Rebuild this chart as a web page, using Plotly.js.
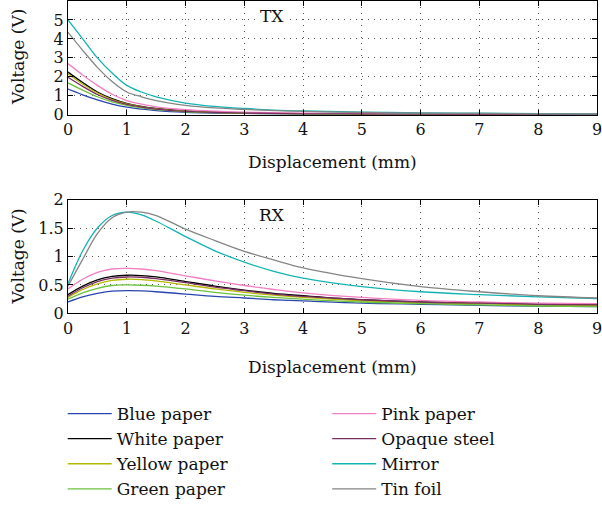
<!DOCTYPE html>
<html>
<head>
<meta charset="utf-8">
<script src="https://cdn.plot.ly/plotly-3.0.1.min.js"></script>
<style>html,body{margin:0;padding:0;background:#fff}#chart{width:602px;height:507px}</style>
</head>
<body>
<div id="chart"></div>
<script>
var displacement = [0, 0.25, 0.5, 0.75, 1, 1.25, 1.5, 2, 2.5, 3, 3.5, 4, 5, 6, 7, 8, 9];
var materials = ["Blue paper", "White paper", "Yellow paper", "Green paper", "Pink paper", "Opaque steel", "Mirror", "Tin foil"];
var colors = ["#2a45b0", "#000000", "#b5b800", "#6cc23c", "#f27fc3", "#7a2f62", "#14b3b3", "#858585"];
var legendColumn = ["legend", "legend", "legend", "legend", "legend2", "legend2", "legend2", "legend2"];

var txBlue   = [1.35, 1.05, 0.78, 0.56, 0.4, 0.3, 0.22, 0.13, 0.09, 0.07, 0.05, 0.04, 0.03, 0.02, 0.02, 0.02, 0.01];
var txWhite  = [2.25, 1.7, 1.2, 0.85, 0.6, 0.44, 0.33, 0.2, 0.14, 0.1, 0.08, 0.06, 0.04, 0.03, 0.02, 0.02, 0.02];
var txYellow = [2.15, 1.62, 1.15, 0.8, 0.57, 0.42, 0.31, 0.19, 0.13, 0.09, 0.07, 0.06, 0.04, 0.03, 0.02, 0.02, 0.02];
var txGreen  = [1.68, 1.3, 0.95, 0.68, 0.5, 0.37, 0.27, 0.16, 0.11, 0.08, 0.06, 0.05, 0.03, 0.03, 0.02, 0.02, 0.02];
var txPink   = [2.7, 2.1, 1.55, 1.08, 0.75, 0.56, 0.42, 0.27, 0.19, 0.14, 0.11, 0.09, 0.06, 0.05, 0.04, 0.03, 0.03];
var txSteel  = [1.98, 1.5, 1.07, 0.76, 0.55, 0.41, 0.3, 0.18, 0.12, 0.09, 0.07, 0.05, 0.04, 0.03, 0.02, 0.02, 0.02];
var txMirror = [5.0, 4.0, 3.0, 2.2, 1.55, 1.2, 0.95, 0.62, 0.44, 0.33, 0.25, 0.2, 0.14, 0.1, 0.08, 0.06, 0.05];
var txTin    = [4.35, 3.4, 2.5, 1.75, 1.2, 0.95, 0.75, 0.5, 0.36, 0.28, 0.22, 0.18, 0.12, 0.09, 0.07, 0.05, 0.04];

var rxBlue   = [0.2, 0.29, 0.35, 0.39, 0.4, 0.395, 0.38, 0.34, 0.3, 0.27, 0.24, 0.22, 0.18, 0.16, 0.14, 0.13, 0.12];
var rxWhite  = [0.33, 0.48, 0.59, 0.65, 0.67, 0.665, 0.64, 0.56, 0.48, 0.41, 0.35, 0.31, 0.24, 0.2, 0.18, 0.16, 0.15];
var rxYellow = [0.28, 0.42, 0.52, 0.58, 0.6, 0.595, 0.57, 0.5, 0.43, 0.37, 0.32, 0.28, 0.22, 0.19, 0.17, 0.15, 0.14];
var rxGreen  = [0.25, 0.36, 0.44, 0.49, 0.5, 0.495, 0.48, 0.43, 0.37, 0.32, 0.28, 0.25, 0.2, 0.17, 0.15, 0.13, 0.12];
var rxPink   = [0.43, 0.6, 0.72, 0.78, 0.79, 0.78, 0.75, 0.66, 0.57, 0.49, 0.42, 0.36, 0.28, 0.23, 0.2, 0.18, 0.17];
var rxSteel  = [0.3, 0.45, 0.56, 0.62, 0.64, 0.635, 0.61, 0.54, 0.46, 0.4, 0.34, 0.3, 0.24, 0.2, 0.18, 0.16, 0.15];
var rxMirror = [0.52, 1.1, 1.5, 1.72, 1.78, 1.73, 1.62, 1.35, 1.1, 0.9, 0.74, 0.62, 0.47, 0.38, 0.33, 0.29, 0.26];
var rxTin    = [0.48, 0.95, 1.4, 1.68, 1.78, 1.78, 1.72, 1.48, 1.28, 1.09, 0.94, 0.8, 0.61, 0.47, 0.38, 0.31, 0.27];

var txSeries = [txBlue, txWhite, txYellow, txGreen, txPink, txSteel, txMirror, txTin];
var rxSeries = [rxBlue, rxWhite, rxYellow, rxGreen, rxPink, rxSteel, rxMirror, rxTin];

var traces = [];
for (var i = 0; i < materials.length; i++) {
  traces.push({
    x: displacement, y: txSeries[i], type: 'scatter', mode: 'lines',
    line: {color: colors[i], width: 1.3, shape: 'spline', smoothing: 1},
    name: materials[i], showlegend: false, xaxis: 'x', yaxis: 'y', hoverinfo: 'skip'
  });
}
for (var j = 0; j < materials.length; j++) {
  traces.push({
    x: displacement, y: rxSeries[j], type: 'scatter', mode: 'lines',
    line: {color: colors[j], width: 1.3, shape: 'spline', smoothing: 1},
    name: materials[j], showlegend: true, legend: legendColumn[j],
    xaxis: 'x2', yaxis: 'y2', hoverinfo: 'skip'
  });
}

var fontFam = 'DejaVu Serif, serif';
var axisCommon = {
  showline: true, linecolor: '#000', linewidth: 1, mirror: 'ticks',
  ticks: 'inside', ticklen: 5, tickcolor: '#000', tickwidth: 1,
  showgrid: true, gridcolor: '#555', gridwidth: 1, griddash: '1px,5px',
  zeroline: false, ticklabeloverflow: 'allow',
  tickfont: {family: fontFam, size: 16, color: '#111'}
};
function ax(extra) { return Object.assign({}, axisCommon, extra); }
var legendCommon = {
  orientation: 'v', xanchor: 'left', y: 0.218, yanchor: 'top',
  itemwidth: 44,
  font: {family: fontFam, size: 17, color: '#111'},
  bgcolor: 'rgba(0,0,0,0)', borderwidth: 0, traceorder: 'normal'
};

var layout = {
  width: 602, height: 507,
  margin: {l: 68, r: 5, t: 0, b: 0},
  paper_bgcolor: '#fff', plot_bgcolor: '#fff',
  font: {family: fontFam, size: 16, color: '#111'},
  xaxis: ax({anchor: 'y', range: [0, 9], tickvals: [0,1,2,3,4,5,6,7,8,9]}),
  yaxis: ax({anchor: 'x', domain: [0.77318, 0.99803], range: [0, 6], tickvals: [0,1,2,3,4,5]}),
  xaxis2: ax({anchor: 'y2', range: [0, 9], tickvals: [0,1,2,3,4,5,6,7,8,9]}),
  yaxis2: ax({anchor: 'x2', domain: [0.38067, 0.60552], range: [0, 2], tickvals: [0, 0.5, 1, 1.5, 2], ticktext: ['0', '0.5', '1', '1.5', '2']}),
  showlegend: true,
  legend: Object.assign({}, legendCommon, {x: -0.01}),
  legend2: Object.assign({}, legendCommon, {x: 0.49}),
  annotations: [
    {text: 'Displacement (mm)', xref: 'paper', yref: 'paper', x: 0.5, y: 0.6805, xanchor: 'center', yanchor: 'middle', showarrow: false, font: {family: fontFam, size: 17, color: '#111'}},
    {text: 'Displacement (mm)', xref: 'paper', yref: 'paper', x: 0.5, y: 0.2742, xanchor: 'center', yanchor: 'middle', showarrow: false, font: {family: fontFam, size: 17, color: '#111'}},
    {text: 'Voltage (V)', xref: 'paper', yref: 'paper', x: -0.0945, y: 0.8876, xanchor: 'center', yanchor: 'middle', textangle: -90, showarrow: false, font: {family: fontFam, size: 17, color: '#111'}},
    {text: 'Voltage (V)', xref: 'paper', yref: 'paper', x: -0.0945, y: 0.4931, xanchor: 'center', yanchor: 'middle', textangle: -90, showarrow: false, font: {family: fontFam, size: 17, color: '#111'}},
    {text: 'TX', xref: 'x', yref: 'paper', x: 3.47, y: 0.968, xanchor: 'center', yanchor: 'middle', showarrow: false, bgcolor: '#fff', font: {family: fontFam, size: 17, color: '#111'}},
    {text: 'RX', xref: 'x2', yref: 'paper', x: 3.47, y: 0.576, xanchor: 'center', yanchor: 'middle', showarrow: false, bgcolor: '#fff', font: {family: fontFam, size: 17, color: '#111'}}
  ]
};

Plotly.newPlot('chart', traces, layout, {displayModeBar: false, staticPlot: true});
</script>
</body>
</html>
